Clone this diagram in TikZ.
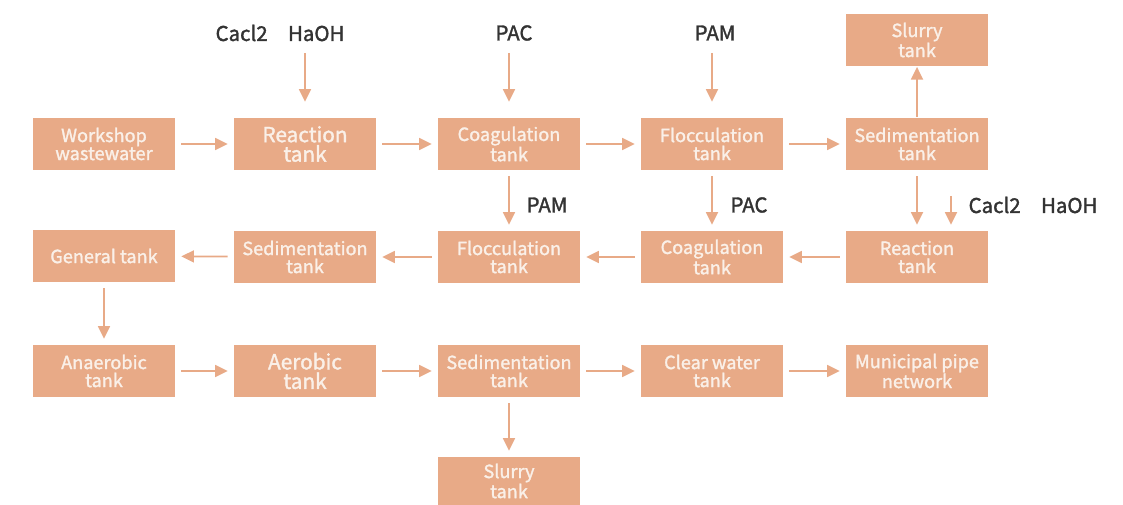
\documentclass[tikz,border=0pt]{standalone}
\usepackage{fontspec}
\setmainfont{Noto Sans CJK SC}[AutoFakeBold=1.6]
\usetikzlibrary{arrows.meta}
\definecolor{tankfill}{HTML}{E8AA87}
\definecolor{tanktext}{HTML}{FAF0E8}
\definecolor{chemtext}{HTML}{333333}
\begin{document}
\begin{tikzpicture}[x=0.75pt,y=-0.75pt,
    tank/.style={fill=tankfill,text=tanktext,minimum width=106.5pt,minimum height=39pt,
        inner sep=0pt,align=center,font=\bfseries\fontsize{13.6}{13.5}\selectfont},
    bigtank/.style={tank,font=\bfseries\fontsize{15.6}{14.6}\selectfont},
    chem/.style={text=chemtext,inner sep=0pt,font=\bfseries\fontsize{15.3}{16}\selectfont},
    flow/.style={draw=tankfill,line width=1.3pt,-{Triangle[length=9.5pt,width=9pt]},
        shorten >=4.5pt,shorten <=4.5pt}]
    \useasboundingbox (0,0) rectangle (1123,505);

    % first line of the process
    \node[tank] (workshop) at (104,144) {Workshop\\wastewater};
    \node[bigtank] (react1) at (305,144) {Reaction\\tank};
    \node[tank] (coag1) at (509,144) {Coagulation\\tank};
    \node[tank] (floc1) at (712,144) {Flocculation\\tank};
    \node[tank] (sed1) at (917,144) {Sedimentation\\tank};
    \node[tank] (slurry1) at (917,40) {Slurry\\tank};

    % second line, running back
    \node[tank] (general) at (104,256) {General tank};
    \node[tank] (sed2) at (305,257) {Sedimentation\\tank};
    \node[tank] (floc2) at (509,257) {Flocculation\\tank};
    \node[tank] (coag2) at (712,257) {Coagulation\\tank};
    \node[tank] (react2) at (917,257) {Reaction\\tank};

    % biological treatment
    \node[tank] (anaerobic) at (104,371) {Anaerobic\\tank};
    \node[bigtank] (aerobic) at (305,371) {Aerobic\\tank};
    \node[tank] (sed3) at (509,371) {Sedimentation\\tank};
    \node[tank] (clear) at (712,371) {Clear water\\tank};
    \node[tank] (municipal) at (917,371) {Municipal pipe\\network};
    \node[tank,minimum height=36pt] (slurry2) at (509,481) {Slurry\\tank};

    \foreach \a/\b in {workshop/react1,react1/coag1,coag1/floc1,floc1/sed1,
        sed1/react2,react2/coag2,coag2/floc2,floc2/sed2,sed2/general,
        general/anaerobic,anaerobic/aerobic,aerobic/sed3,sed3/clear,
        clear/municipal,sed3/slurry2} {
        \draw[flow] (\a) -- (\b);
    }
    \draw[flow,shorten >=0.5pt,shorten <=0.5pt] (sed1) -- (slurry1);

    % dosing
    \node[chem] (dose1) at (280,33) {Cacl2\quad HaOH};
    \node[chem] (dose2) at (514,33) {PAC};
    \node[chem] (dose3) at (715,33) {PAM};
    \node[chem] (dose4) at (547,205) {PAM};
    \node[chem] (dose5) at (749,205) {PAC};
    \node[chem] (dose6) at (1033,205) {Cacl2\quad HaOH};

    \coordinate (in1) at (305,53);
    \coordinate (in2) at (509,53);
    \coordinate (in3) at (712,53);
    \coordinate (in4) at (509,176);
    \coordinate (in5) at (712,176);
    \coordinate (in6) at (951,196);

    \foreach \c/\t in {in1/react1,in2/coag1,in3/floc1} {
        \draw[flow,shorten <=0pt,shorten >=12pt] (\c) -- (\t);
    }
    \foreach \c/\t in {in4/floc2,in5/coag2} {
        \draw[flow,shorten <=0pt] (\c) -- (\t);
    }
    \draw[flow,shorten <=0pt] (in6) -- (in6 |- react2.north);
\end{tikzpicture}
\end{document}
